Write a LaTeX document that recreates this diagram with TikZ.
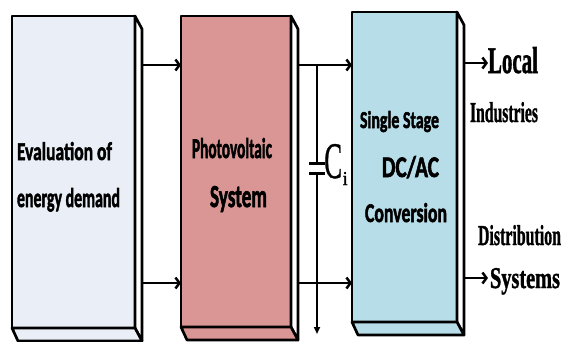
\documentclass[tikz,border=0pt]{standalone}
\usepackage{fontspec}
\usepackage{graphicx}
\newfontfamily\cbf{Carlito}[BoldFeatures={FakeBold=2.2}]
\newfontfamily\tnr{Liberation Serif}[BoldFeatures={FakeBold=1.5}]
\newfontfamily\tnrc{Liberation Serif}[FakeBold=0.8]
\usetikzlibrary{calc,arrows.meta}
\definecolor{cEval}{RGB}{233,238,247}
\definecolor{cPV}{RGB}{217,150,148}
\definecolor{cConv}{RGB}{183,222,232}
\tikzset{
  front/.style={draw=black, line width=2.7pt, inner sep=0pt, outer sep=0pt, line join=round},
  face/.style={draw=black, line width=2.7pt, line join=round},
  lbl/.style={anchor=base west, inner sep=0pt, outer sep=0pt, font=\cbf\bfseries\fontsize{24}{24}\selectfont},
  slbl/.style={anchor=base west, inner sep=0pt, outer sep=0pt, font=\tnr\bfseries\fontsize{24}{24}\selectfont},
  conn/.style={line width=2.5pt, -{Straight Barb[length=4pt,width=11pt,line width=2.5pt]}},
  wire/.style={line width=2pt},
  plate/.style={line width=3.5pt},
}
\newcommand{\fit}[3]{\resizebox{#1pt}{#2pt}{#3}}
\begin{document}
\begin{tikzpicture}[x=1pt,y=-1pt]
\useasboundingbox (0,0) rectangle (563,341);
\clip (0,0) rectangle (563,341);
% front faces
\node[front, fill=cEval, minimum width=123pt, minimum height=312pt] (b1) at (73.5,172) {};
\node[front, fill=cPV, minimum width=110pt, minimum height=311pt] (b2) at (236,171.5) {};
\node[front, fill=cConv, minimum width=105pt, minimum height=310pt] (b3) at (404.5,167) {};
% 3D side and bottom faces
\foreach \b/\c in {b1/cEval, b2/cPV, b3/cConv}{
  \draw[face, fill=white] (\b.north east) -- ++(7,13) -- ($(\b.south east)+(7,13)$) -- (\b.south east) -- cycle;
  \draw[face, fill=\c] (\b.south west) -- (\b.south east) -- ++(7,13) -- ($(\b.south west)+(6,13)$) -- cycle;
}
\coordinate (b1s) at ($(b1.north east)+(7,13)$);
\coordinate (b2s) at ($(b2.north east)+(7,13)$);
\coordinate (b3s) at ($(b3.north east)+(7,13)$);
% levels
\coordinate (ytop) at (0,65);
\coordinate (ybot) at (0,283);
\coordinate (yloc) at (0,63);
\coordinate (ysys) at (0,278);
% connectors box1 -> box2
\draw[conn] (b1s |- ytop) -- (b2.west |- ytop);
\draw[conn] (b1s |- ybot) -- (b2.west |- ybot);
% connectors box2 -> box3
\draw[conn] (b2s |- ytop) -- (b3.west |- ytop);
\draw[conn] (b2s |- ybot) -- (b3.west |- ybot);
% outputs
\coordinate (oloc) at (488,63);
\coordinate (osys) at (488,278);
\draw[conn] (b3s |- yloc) -- (oloc);
\draw[conn] (b3s |- ysys) -- (osys);
% capacitor
\coordinate (j1) at (317,65);
\coordinate (p1) at (317,163.5);
\coordinate (p2) at (317,173.5);
\coordinate (gnd) at (317,334);
\draw[wire] (j1) -- (p1);
\draw[plate] ($(p1)+(-8,0)$) -- ($(p1)+(8,0)$);
\draw[plate] ($(p2)+(-8,0)$) -- ($(p2)+(8,0)$);
\draw[wire, -{Triangle[length=7pt,width=6pt]}] (p2) -- (gnd);
\node[anchor=base west, inner sep=0pt] (cC) at (324,178) {\fit{18}{34}{\tnrc C}};
\node[anchor=base west, inner sep=0pt] (ci) at (342.5,185) {\fit{5}{13}{\tnrc i}};
% box labels
\node[lbl] (t1) at (17,160) {\fit{95}{18}{Evaluation of}};
\node[lbl] (t2) at (17,207) {\fit{103}{19}{energy demand}};
\node[lbl] (t3) at (192,158) {\fit{80}{20}{Photovoltaic}};
\node[lbl] (t4) at (210,207) {\fit{57}{21}{System}};
\node[lbl] (t5) at (360,128) {\fit{79}{17}{Single Stage}};
\node[lbl] (t6) at (382,177) {\fit{57}{21}{DC/AC}};
\node[lbl] (t7) at (365,222) {\fit{82}{19}{Conversion}};
% output labels
\node[slbl] (o1) at (488,73) {\fit{50}{26}{Local}};
\node[slbl] (o2) at (470,122) {\fit{68}{20}{Industries}};
\node[slbl] (o3) at (478,245) {\fit{83}{20}{Distribution}};
\node[slbl] (o4) at (490,288) {\fit{70}{20}{Systems}};
\end{tikzpicture}
\end{document}
